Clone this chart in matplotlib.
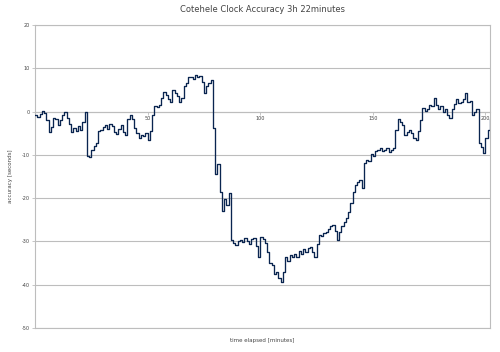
"""Cotehele clock accuracy over a 3h 22min run (offset in seconds per minute)."""

import matplotlib
matplotlib.use("Agg")
import matplotlib.pyplot as plt

# offset of the clock in seconds, read once per elapsed minute (0 .. 202)
offsets = [
    -0.7, -1.2, -0.5, 0.2, -0.4, -2.0, -4.6, -3.5, -1.4, -1.8,      # 0-9
    -3.0, -2.0, -0.8, -0.2, -1.5, -2.8, -4.8, -3.7, -4.5, -3.4,     # 10-19
    -4.2, -2.3, -0.2, -10.2, -10.4, -8.8, -8.0, -7.2, -4.5, -4.2,   # 20-29
    -3.6, -3.0, -4.0, -2.8, -3.4, -4.6, -5.2, -4.0, -3.0, -4.6,     # 30-39
    -5.5, -1.8, -0.7, -1.6, -3.8, -5.0, -6.0, -5.3, -5.6, -5.0,     # 40-49
    -6.5, -4.5, -0.7, 1.2, 1.0, 1.6, 3.2, 4.6, 3.9, 3.0,            # 50-59
    2.1, 5.1, 4.2, 3.5, 2.3, 3.2, 5.8, 6.5, 7.9, 8.1,               # 60-69
    7.6, 8.5, 8.1, 8.3, 6.9, 4.4, 5.8, 6.5, 7.4, -3.7,              # 70-79
    -14.5, -12.2, -18.5, -23.0, -20.3, -21.5, -18.7, -29.6, -30.3, -30.8,  # 80-89
    -29.8, -29.6, -30.2, -29.1, -30.0, -30.5, -29.5, -29.1, -31.0, -33.5,  # 90-99
    -29.0, -29.5, -30.3, -32.5, -34.9, -35.5, -37.6, -37.0, -38.5, -39.3,  # 100-109
    -37.0, -33.7, -34.5, -33.2, -33.7, -32.8, -33.5, -32.3, -33.0, -31.8,  # 110-119
    -32.5, -31.5, -31.2, -32.5, -33.7, -30.5, -28.4, -28.8, -28.0, -27.9,  # 120-129
    -27.2, -26.5, -26.1, -27.5, -29.6, -27.8, -26.5, -25.6, -24.5, -23.1,  # 130-139
    -21.0, -18.5, -17.0, -16.2, -15.7, -17.6, -11.8, -11.1, -11.5, -9.9,   # 140-149
    -10.2, -9.2, -8.8, -8.3, -9.0, -8.8, -8.3, -9.3, -8.8, -8.5,           # 150-159
    -4.2, -1.8, -2.3, -3.0, -5.3, -4.6, -4.2, -5.0, -6.0, -6.5,            # 160-169
    -4.5, -2.0, 0.9, 0.2, 0.5, 1.6, 1.2, 3.2, 1.5, 0.5,                    # 170-179
    1.2, 0.0, 0.6, -0.8, -1.4, 0.5, 1.8, 2.8, 2.0, 2.3,                    # 180-189
    3.0, 4.4, 2.1, 2.5, -0.7, 0.0, 0.5, -7.2, -8.1, -9.5,                  # 190-199
    -6.0, -4.2, -1.8,                                                       # 200-202
]
minutes = list(range(len(offsets)))

y_ticks = [20, 10, 0, -10, -20, -30, -40, -50]
x_ticks = [50, 100, 150, 200]

LINE = "#0a2550"
GRID = "#bdbdbd"
TEXT = "#444444"

fig = plt.figure(figsize=(5, 3.52), dpi=100)
ax = fig.add_axes([0.07, 0.068, 0.91, 0.861])

ax.step(minutes, offsets, where="post", color=LINE, linewidth=0.95, zorder=3)

ax.set_xlim(0, 202)
ax.set_ylim(-50, 20)

ax.set_yticks(y_ticks)
ax.set_yticklabels([str(v) for v in y_ticks])
ax.set_xticks(x_ticks)
ax.set_xticklabels([str(v) for v in x_ticks])
ax.grid(axis="y", color=GRID, linewidth=0.8, zorder=0)

# x axis crosses at zero, labels sit just under the zero line
for side in ("top", "right", "left"):
    ax.spines[side].set_color(GRID)
    ax.spines[side].set_linewidth(0.8)
ax.spines["bottom"].set_position(("data", 0))
ax.spines["bottom"].set_color(GRID)
ax.spines["bottom"].set_linewidth(0.8)
ax.axhline(-50, color=GRID, linewidth=0.8, zorder=0, clip_on=False)

ax.tick_params(axis="both", colors=GRID, labelcolor=TEXT, labelsize=3.5,
               length=2, width=0.6, pad=1.5)

ax.set_title("Cotehele Clock Accuracy 3h 22minutes", fontsize=6, color=TEXT, pad=9)
fig.text(0.525, 0.034, "time elapsed [minutes]", fontsize=4, color=TEXT,
         ha="center", va="center")
fig.text(0.022, 0.5, "accuracy [seconds]", fontsize=4, color=TEXT,
         rotation=90, ha="center", va="center")

fig.savefig("out.png", dpi=100)
